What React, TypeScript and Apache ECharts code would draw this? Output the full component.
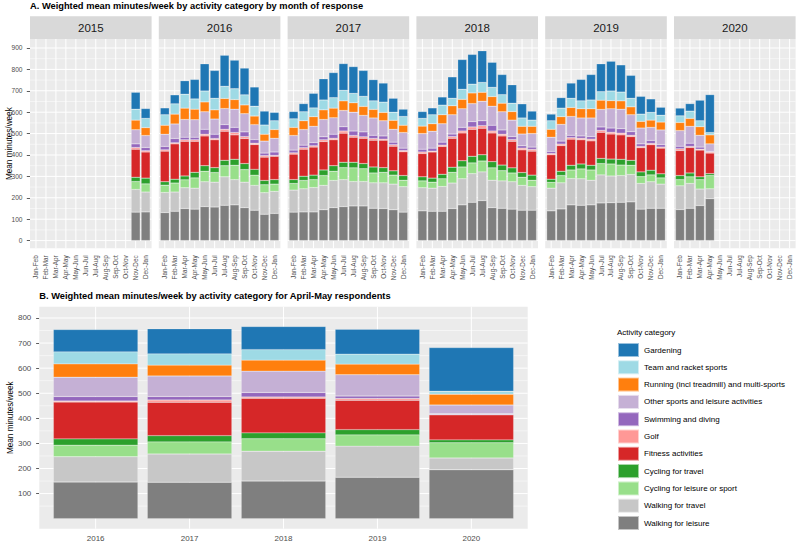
import React, { useEffect, useRef } from "react";
import * as echarts from "echarts";

// ---------- categories / labels ----------
const monthLabels = ["Jan-Feb", "Feb-Mar", "Mar-Apr", "Apr-May", "May-Jun", "Jun-Jul", "Jul-Aug", "Aug-Sep", "Sep-Oct", "Oct-Nov", "Nov-Dec", "Dec-Jan"];
const facetYears = ["2015", "2016", "2017", "2018", "2019", "2020"];
const firstMonth = [11, 1, 1, 1, 1, 1];
const lastMonth = [12, 12, 12, 12, 12, 4];
const yTicksA = [0, 100, 200, 300, 400, 500, 600, 700, 800, 900];
const yTicksB = [100, 200, 300, 400, 500, 600, 700, 800];
const yearsB = ["2016", "2017", "2018", "2019", "2020"];

// activity categories, bottom of stack first
const activityNames = [
  "Walking for leisure",
  "Walking for travel",
  "Cycling for leisure or sport",
  "Cycling for travel",
  "Fitness activities",
  "Golf",
  "Swimming and diving",
  "Other sports and leisure activities",
  "Running (incl treadmill) and multi-sports",
  "Team and racket sports",
  "Gardening",
];
const activityColors = ["#7F7F7F", "#C7C7C7", "#98DF8A", "#2CA02C", "#D62728", "#FF9896", "#9467BD", "#C5B0D5", "#FF7F0E", "#9EDAE5", "#1F77B4"];

// ---------- panel A values (2015 Nov-Dec .. 2020 Apr-May, 54 periods) ----------
const walkLeisureA = [133, 134, 131, 137, 150, 147, 159, 157, 165, 167, 154, 142, 123, 127, 133, 134, 134, 144, 154, 159, 162, 162, 151, 150, 144, 133, 139, 137, 137, 150, 167, 179, 187, 154, 151, 147, 142, 142, 139, 148, 167, 165, 167, 176, 177, 179, 181, 147, 151, 151, 145, 151, 164, 196];
const walkTravelA = [106, 93, 94, 90, 97, 98, 116, 116, 133, 118, 119, 116, 101, 103, 103, 108, 114, 114, 127, 126, 114, 114, 119, 120, 120, 119, 108, 108, 116, 119, 122, 134, 134, 128, 128, 128, 116, 110, 106, 122, 123, 124, 115, 131, 125, 125, 128, 120, 124, 113, 111, 116, 77, 46];
const cycLeisureA = [37, 38, 34, 42, 37, 48, 49, 45, 52, 67, 59, 48, 37, 34, 31, 39, 37, 46, 43, 56, 64, 60, 46, 49, 42, 30, 32, 28, 36, 50, 55, 50, 51, 58, 48, 41, 38, 30, 27, 34, 40, 46, 48, 53, 56, 49, 43, 32, 32, 29, 29, 31, 44, 62];
const cycTravelA = [20, 27, 16, 18, 18, 26, 26, 23, 25, 28, 28, 27, 20, 21, 18, 20, 21, 26, 26, 25, 26, 24, 28, 22, 20, 22, 19, 19, 21, 24, 29, 31, 29, 29, 26, 24, 22, 24, 15, 20, 22, 23, 22, 24, 23, 27, 23, 22, 22, 19, 19, 18, 13, 9];
const fitnessA = [131, 122, 143, 165, 162, 145, 139, 130, 136, 114, 117, 116, 109, 109, 119, 126, 131, 133, 121, 136, 117, 118, 125, 128, 115, 111, 109, 122, 130, 135, 130, 126, 124, 134, 136, 124, 106, 112, 114, 120, 122, 113, 114, 122, 117, 114, 111, 113, 119, 120, 117, 119, 125, 96];
const golfA = [8, 6, 6, 5, 7, 7, 8, 6, 9, 11, 9, 6, 7, 4, 6, 7, 6, 8, 7, 10, 8, 7, 8, 5, 7, 6, 7, 4, 6, 8, 9, 11, 12, 9, 8, 8, 8, 8, 6, 7, 7, 7, 8, 9, 8, 8, 6, 6, 6, 5, 8, 5, 4, 5];
const swimA = [17, 15, 16, 20, 12, 12, 23, 20, 22, 24, 22, 17, 12, 16, 13, 12, 15, 14, 19, 20, 21, 23, 15, 15, 12, 11, 13, 14, 14, 12, 17, 25, 23, 27, 20, 14, 11, 11, 10, 14, 11, 11, 12, 16, 20, 21, 17, 12, 14, 12, 12, 15, 10, 3];
const otherA = [66, 56, 57, 68, 83, 82, 82, 71, 75, 85, 85, 70, 56, 64, 68, 73, 76, 81, 77, 76, 88, 77, 81, 71, 60, 73, 73, 79, 86, 90, 87, 84, 91, 89, 85, 77, 55, 63, 66, 78, 88, 84, 87, 82, 90, 91, 79, 74, 61, 68, 73, 79, 55, 35];
const runA = [45, 37, 42, 46, 53, 49, 46, 43, 47, 45, 41, 40, 32, 41, 38, 41, 45, 45, 45, 45, 44, 42, 40, 39, 42, 34, 35, 35, 42, 42, 44, 50, 42, 45, 40, 40, 36, 34, 37, 36, 42, 43, 43, 43, 38, 39, 37, 31, 34, 37, 38, 37, 40, 42];
const teamA = [51, 43, 49, 48, 65, 48, 51, 54, 57, 51, 47, 46, 43, 41, 40, 42, 41, 46, 49, 49, 44, 47, 40, 48, 38, 41, 36, 42, 45, 35, 47, 41, 46, 43, 40, 39, 39, 29, 40, 40, 43, 37, 41, 40, 45, 41, 40, 34, 36, 32, 31, 34, 28, 11];
const gardenA = [79, 46, 32, 42, 63, 91, 127, 130, 145, 133, 125, 90, 65, 39, 34, 38, 68, 99, 117, 125, 125, 121, 99, 89, 65, 34, 32, 32, 38, 100, 139, 139, 148, 117, 94, 86, 66, 42, 31, 49, 71, 100, 119, 130, 139, 127, 107, 83, 63, 37, 36, 35, 96, 177];

// ---------- panel B values (April-May respondents) ----------
const walkLeisureB = [146, 145, 150, 165, 195];
const walkTravelB = [101, 113, 119, 124, 47];
const cycLeisureB = [46, 48, 50, 45, 61];
const cycTravelB = [25, 25, 23, 21, 11];
const fitnessB = [147, 133, 138, 117, 100];
const golfB = [4, 9, 5, 7, 1];
const swimB = [18, 14, 18, 10, 3];
const otherB = [77, 82, 85, 85, 35];
const runB = [53, 43, 44, 42, 43];
const teamB = [48, 45, 42, 40, 12];
const gardenB = [89, 100, 92, 99, 174];

const seriesA = [walkLeisureA, walkTravelA, cycLeisureA, cycTravelA, fitnessA, golfA, swimA, otherA, runA, teamA, gardenA];
const seriesB = [walkLeisureB, walkTravelB, cycLeisureB, cycTravelB, fitnessB, golfB, swimB, otherB, runB, teamB, gardenB];

const FONT = "'Liberation Sans', Arial, Helvetica, sans-serif";
const EXPAND = 0.1; // ggplot discrete expansion beyond half a band

function midpoints(ticks: number[], lo: number, hi: number) {
  const step = ticks[1] - ticks[0];
  const out: number[] = [];
  for (let v = ticks[0] - step / 2; v <= hi; v += step) if (v >= lo) out.push(v);
  return out;
}

// panel background + ggplot-style white grid lines, positioned through the axes
function panelSeries(gi: number, nCat: number, majors: number[], minors: number[], yMin: number, yMax: number) {
  return {
    type: "custom",
    xAxisIndex: gi,
    yAxisIndex: gi,
    silent: true,
    clip: false,
    z: 1,
    data: [[0, majors[0]]],
    renderItem: (params: any, api: any) => {
      const cs = params.coordSys;
      const band = cs.width / nCat;
      const x0 = cs.x - band * EXPAND;
      const x1 = cs.x + cs.width + band * EXPAND;
      const yTop = api.coord([0, yMax])[1];
      const yBot = api.coord([0, yMin])[1];
      const children: any[] = [
        { type: "rect", shape: { x: x0, y: yTop, width: x1 - x0, height: yBot - yTop }, style: { fill: "#EBEBEB" } },
      ];
      const h = (v: number, w: number) => {
        const y = api.coord([0, v])[1];
        children.push({ type: "line", shape: { x1: x0, y1: y, x2: x1, y2: y }, style: { stroke: "#FFFFFF", lineWidth: w } });
      };
      minors.forEach((v) => h(v, 0.5));
      majors.forEach((v) => h(v, 1));
      for (let i = 0; i < nCat; i++) {
        const x = api.coord([i, majors[0]])[0];
        children.push({ type: "line", shape: { x1: x, y1: yTop, x2: x, y2: yBot }, style: { stroke: "#FFFFFF", lineWidth: 1 } });
      }
      return { type: "group", children };
    },
  };
}

export default function App() {
  const ref = useRef<HTMLDivElement>(null);

  useEffect(() => {
    if (!ref.current) return;
    const chart = echarts.init(ref.current, undefined, { renderer: "svg" });

    // layout (panel = full ggplot panel, grid = inner category band area)
    const aLeft = 30, aStep = 128.8, aW = 121.6, aTop = 39, aH = 209.3;
    const stripTop = 16.2, stripH = 22.8;
    const aMin = -36, aMax = 942;
    const bLeft = 39.3, bTop = 306.7, bW = 488.4, bH = 222;
    const bMin = -40, bMax = 845;
    const nA = monthLabels.length;
    const nB = yearsB.length;
    const unitA = aW / (nA + 2 * EXPAND);
    const unitB = bW / (nB + 2 * EXPAND);

    const grids: any[] = [];
    const xAxes: any[] = [];
    const yAxes: any[] = [];
    const series: any[] = [];
    const graphics: any[] = [];

    const minorA = midpoints(yTicksA, aMin, aMax);
    let offset = 0;

    facetYears.forEach((yr, g) => {
      const left = aLeft + g * aStep;
      grids.push({ left: left + unitA * EXPAND, top: aTop, width: unitA * nA, height: aH, show: false, containLabel: false, outerBoundsMode: "none" });
      xAxes.push({
        gridIndex: g, type: "category", data: monthLabels, boundaryGap: true,
        splitLine: { show: false }, axisLine: { show: false },
        axisTick: { show: true, alignWithLabel: true, interval: 0, length: 3.2, lineStyle: { color: "#333333", width: 0.8 } },
        axisLabel: { interval: 0, rotate: 90, fontSize: 6.4, color: "#4D4D4D", margin: 7, fontFamily: FONT },
      });
      yAxes.push({
        gridIndex: g, type: "value", min: aMin, max: aMax, offset: unitA * EXPAND,
        splitLine: { show: false }, axisLine: { show: false },
        axisTick: { show: g === 0, customValues: yTicksA, length: 3.2, lineStyle: { color: "#333333", width: 0.8 } },
        axisLabel: { show: g === 0, customValues: yTicksA, fontSize: 6.6, color: "#4D4D4D", margin: 7.5, fontFamily: FONT },
        name: g === 0 ? "Mean minutes/week" : "",
        nameLocation: "middle", nameRotate: 90, nameGap: 17, nameMoveOverlap: false,
        nameTextStyle: { fontSize: 8.2, color: "#000000", fontFamily: FONT },
      });
      graphics.push({ type: "rect", silent: true, shape: { x: left, y: stripTop, width: aW, height: stripH }, style: { fill: "#D9D9D9" } });
      graphics.push({ type: "text", silent: true, x: left + aW / 2, y: stripTop + stripH / 2 + 0.5, style: { text: yr, fill: "#1A1A1A", fontSize: 11.5, fontFamily: FONT, align: "center", verticalAlign: "middle" } });

      const nMonths = lastMonth[g] - firstMonth[g] + 1;
      series.push(panelSeries(g, nA, yTicksA, minorA, aMin, aMax));
      seriesA.forEach((arr, k) => {
        const data = monthLabels.map((_, i) => {
          const m = i + 1;
          return m >= firstMonth[g] && m <= lastMonth[g] ? arr[offset + (m - firstMonth[g])] : null;
        });
        series.push({
          type: "bar", name: activityNames[k], xAxisIndex: g, yAxisIndex: g, stack: "A" + g,
          barWidth: "90%", z: 2,
          itemStyle: { color: activityColors[k], borderColor: "rgba(255,255,255,0.55)", borderWidth: 0.4 },
          data,
        });
      });
      offset += nMonths;
    });

    // panel B
    const bi = facetYears.length;
    grids.push({ left: bLeft + unitB * EXPAND, top: bTop, width: unitB * nB, height: bH, show: false, containLabel: false, outerBoundsMode: "none" });
    xAxes.push({
      gridIndex: bi, type: "category", data: yearsB, boundaryGap: true,
      splitLine: { show: false }, axisLine: { show: false },
      axisTick: { show: true, alignWithLabel: true, interval: 0, length: 3.2, lineStyle: { color: "#333333", width: 0.8 } },
      axisLabel: { interval: 0, fontSize: 8, color: "#4D4D4D", margin: 5.5, fontFamily: FONT },
    });
    yAxes.push({
      gridIndex: bi, type: "value", min: bMin, max: bMax, offset: unitB * EXPAND,
      splitLine: { show: false }, axisLine: { show: false },
      axisTick: { show: true, customValues: yTicksB, length: 3.2, lineStyle: { color: "#333333", width: 0.8 } },
      axisLabel: { customValues: yTicksB, fontSize: 8, color: "#4D4D4D", margin: 8, fontFamily: FONT },
      name: "Mean minutes/week", nameLocation: "middle", nameRotate: 90, nameGap: 25, nameMoveOverlap: false,
      nameTextStyle: { fontSize: 8.2, color: "#000000", fontFamily: FONT },
    });
    series.push(panelSeries(bi, nB, yTicksB, midpoints(yTicksB, bMin, bMax), bMin, bMax));
    seriesB.forEach((arr, k) => {
      series.push({
        type: "bar", name: activityNames[k], xAxisIndex: bi, yAxisIndex: bi, stack: "B",
        barWidth: "90%", z: 2,
        itemStyle: { color: activityColors[k], borderColor: "rgba(255,255,255,0.55)", borderWidth: 0.4 },
        data: arr,
      });
    });

    chart.setOption({
      animation: false,
      backgroundColor: "#FFFFFF",
      textStyle: { fontFamily: FONT },
      title: [
        { text: "A. Weighted mean minutes/week by activity category by month of response", left: aLeft, top: 1, padding: 0, textStyle: { fontSize: 9.3, fontWeight: "bold", color: "#000000", fontFamily: FONT } },
        { text: "B. Weighted mean minutes/week by activity category for April-May respondents", left: bLeft, top: 291, padding: 0, textStyle: { fontSize: 9.3, fontWeight: "bold", color: "#000000", fontFamily: FONT } },
        { text: "Activity category", left: 617, top: 328.5, padding: 0, textStyle: { fontSize: 8, fontWeight: "normal", color: "#000000", fontFamily: FONT } },
      ],
      legend: {
        orient: "vertical", left: 617, top: 342, padding: 0,
        itemWidth: 21, itemHeight: 14, itemGap: 1.3, icon: "rect",
        selectedMode: false,
        textStyle: { fontSize: 8, color: "#000000", fontFamily: FONT },
        data: activityNames.slice().reverse(),
      },
      grid: grids,
      xAxis: xAxes,
      yAxis: yAxes,
      series,
      graphic: graphics,
    });

    return () => chart.dispose();
  }, []);

  return <div ref={ref} style={{ position: "absolute", left: 0, top: 0, width: 796, height: 542 }} />;
}
